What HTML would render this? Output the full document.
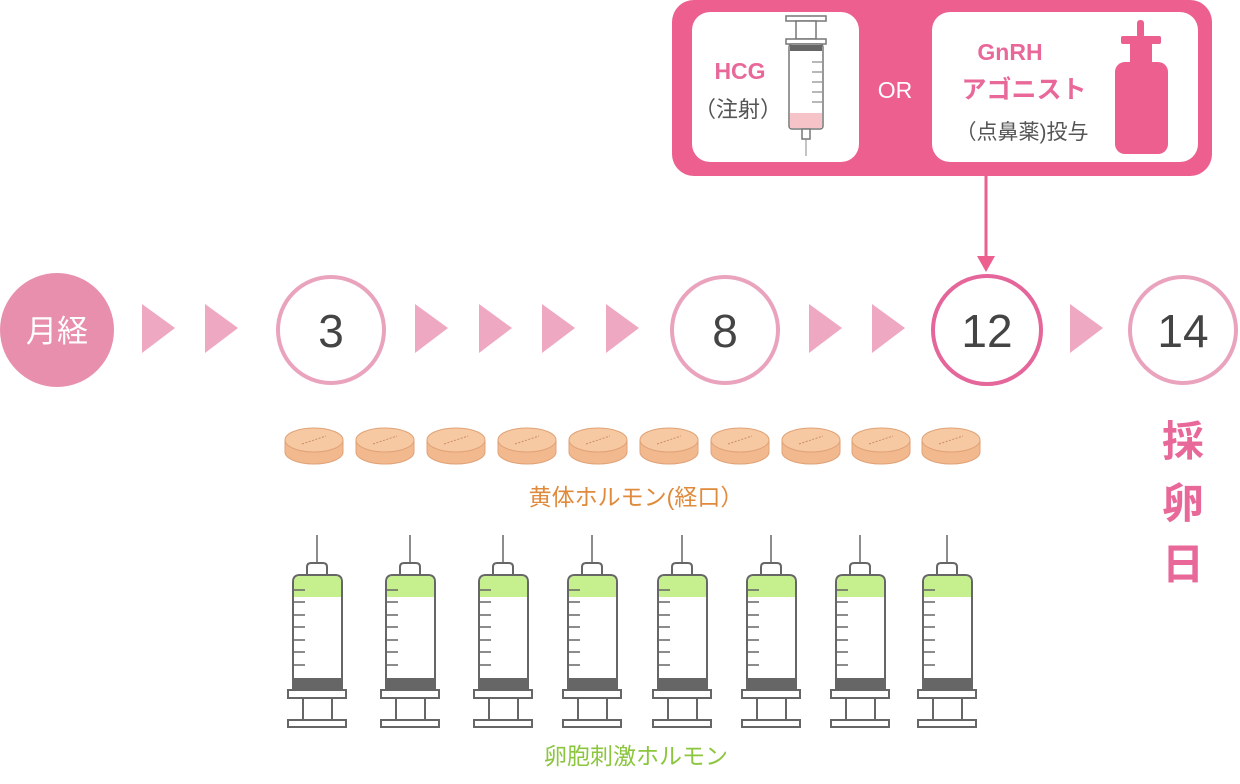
<!DOCTYPE html>
<html><head><meta charset="utf-8"><style>
html,body{margin:0;padding:0;background:#fff;width:1240px;height:784px;overflow:hidden}
svg{display:block}
text{font-family:"Liberation Sans","Noto Sans CJK JP",sans-serif}
</style></head><body>
<svg width="1240" height="784" viewBox="0 0 1240 784" xmlns="http://www.w3.org/2000/svg">
<defs>
<g id="syr">
<line x1="0" y1="535" x2="0" y2="563" stroke="#666" stroke-width="1.5"/>
<path d="M-10 575 V567 Q-10 563 -6 563 H6 Q10 563 10 567 V575" fill="#fff" stroke="#666" stroke-width="2"/>
<path d="M-24 690 V582 Q-24 575 -17 575 H18 Q25 575 25 582 V690 Z" fill="#fff" stroke="#666" stroke-width="2"/>
<path d="M-23 597 V582 Q-23 576 -17 576 H18 Q24 576 24 582 V597 Z" fill="#c6ef8e"/>
<rect x="-24" y="678" width="49" height="12" fill="#666"/>
<g stroke="#666" stroke-width="1.5">
<line x1="-23" y1="590" x2="-12" y2="590"/><line x1="-23" y1="602" x2="-12" y2="602"/>
<line x1="-23" y1="615" x2="-12" y2="615"/><line x1="-23" y1="627" x2="-12" y2="627"/>
<line x1="-23" y1="640" x2="-12" y2="640"/><line x1="-23" y1="652" x2="-12" y2="652"/>
<line x1="-23" y1="665" x2="-12" y2="665"/></g>
<rect x="-29" y="690" width="58" height="8" fill="#fff" stroke="#666" stroke-width="2"/>
<rect x="-14" y="698" width="29" height="22" fill="#fff" stroke="#666" stroke-width="2"/>
<rect x="-29" y="720" width="58" height="7" fill="#fff" stroke="#666" stroke-width="2"/>
</g>
<g id="pill">
<path d="M-29 440 V452 A29 12 0 0 0 29 452 V440" fill="#f2b98f" stroke="#e0a276" stroke-width="1"/>
<ellipse cx="0" cy="440" rx="29" ry="12" fill="#f7c9a3" stroke="#e0a276" stroke-width="1"/>
<line x1="-12" y1="444" x2="12" y2="436" stroke="#c98e64" stroke-width="1" stroke-dasharray="2 1.5"/>
</g>
<polygon id="tri" points="0,304 33,328 0,353" fill="#eea8c1"/>
</defs>

<rect x="672" y="0" width="540" height="176" rx="22" fill="#ec5f8e"/>
<rect x="692" y="12" width="167" height="150" rx="18" fill="#fff"/>
<rect x="932" y="12" width="266" height="150" rx="18" fill="#fff"/>
<text x="740" y="79" font-size="23" font-weight="bold" fill="#e8689a" text-anchor="middle">HCG</text>
<text x="738" y="117" font-size="22" fill="#555" text-anchor="middle">（注射）</text>
<g stroke="#777" stroke-width="1.5" fill="#fff">
<rect x="786" y="16" width="40" height="5"/>
<rect x="796" y="21" width="20" height="18"/>
<rect x="786" y="39" width="40" height="5"/>
<rect x="789" y="44" width="34" height="85" rx="3"/>
<rect x="802" y="129" width="8" height="10"/>
</g>
<rect x="790" y="45" width="32" height="6" fill="#666"/>
<rect x="790" y="113" width="32" height="15" fill="#f6c3c8"/>
<line x1="806" y1="139" x2="806" y2="156" stroke="#888" stroke-width="1"/>
<g stroke="#888" stroke-width="1.2"><line x1="812" y1="62" x2="822" y2="62"/><line x1="812" y1="72" x2="822" y2="72"/><line x1="812" y1="82" x2="822" y2="82"/><line x1="812" y1="92" x2="822" y2="92"/><line x1="812" y1="102" x2="822" y2="102"/></g>
<text x="895" y="98" font-size="23" fill="#fff" text-anchor="middle">OR</text>
<text x="1010" y="60" font-size="23" font-weight="bold" fill="#e8689a" text-anchor="middle">GnRH</text>
<text x="1024" y="98" font-size="25" font-weight="bold" fill="#e8689a" text-anchor="middle">アゴニスト</text>
<text x="1022" y="139" font-size="21" fill="#555" text-anchor="middle">（点鼻薬)投与</text>
<g fill="#ec5f8e">
<rect x="1137" y="20" width="7" height="18" rx="3"/>
<rect x="1121" y="36" width="40" height="8" rx="2"/>
<rect x="1130" y="44" width="22" height="20"/>
<rect x="1115" y="62" width="53" height="92" rx="10"/>
</g>
<line x1="986" y1="175" x2="986" y2="258" stroke="#ec5f8e" stroke-width="3"/>
<polygon points="977,256 995,256 986,272" fill="#ec5f8e"/>

<circle cx="57" cy="330" r="57" fill="#e88fae"/>
<text x="57" y="342" font-size="31" fill="#fff" text-anchor="middle">月経</text>
<use href="#tri" x="142"/><use href="#tri" x="205"/>
<circle cx="331" cy="330" r="53" fill="#fff" stroke="#eaa3bd" stroke-width="4"/>
<text x="331" y="347" font-size="46" fill="#444" text-anchor="middle">3</text>
<use href="#tri" x="415"/><use href="#tri" x="479"/><use href="#tri" x="542"/><use href="#tri" x="606"/>
<circle cx="725" cy="330" r="53" fill="#fff" stroke="#eaa3bd" stroke-width="4"/>
<text x="725" y="347" font-size="46" fill="#444" text-anchor="middle">8</text>
<use href="#tri" x="809"/><use href="#tri" x="872"/>
<circle cx="987" cy="330" r="54" fill="#fff" stroke="#e4669a" stroke-width="4"/>
<text x="987" y="347" font-size="46" fill="#444" text-anchor="middle">12</text>
<use href="#tri" x="1070"/>
<circle cx="1183" cy="330" r="53" fill="#fff" stroke="#eaa3bd" stroke-width="4"/>
<text x="1183" y="347" font-size="46" fill="#444" text-anchor="middle">14</text>

<use href="#pill" x="314"/><use href="#pill" x="385"/><use href="#pill" x="456"/><use href="#pill" x="527"/><use href="#pill" x="598"/>
<use href="#pill" x="669"/><use href="#pill" x="740"/><use href="#pill" x="811"/><use href="#pill" x="881"/><use href="#pill" x="951"/>
<text x="636" y="505" font-size="23" fill="#e08a3c" text-anchor="middle">黄体ホルモン(経口）</text>

<use href="#syr" x="317"/><use href="#syr" x="410"/><use href="#syr" x="503"/><use href="#syr" x="592"/>
<use href="#syr" x="682"/><use href="#syr" x="771"/><use href="#syr" x="860"/><use href="#syr" x="947"/>
<text x="636" y="764" font-size="23" fill="#8cc63f" text-anchor="middle">卵胞刺激ホルモン</text>

<text x="1183" y="456" font-size="42" font-weight="bold" fill="#e8689a" text-anchor="middle">採</text>
<text x="1183" y="518" font-size="42" font-weight="bold" fill="#e8689a" text-anchor="middle">卵</text>
<text x="1183" y="579" font-size="42" font-weight="bold" fill="#e8689a" text-anchor="middle">日</text>
</svg>
</body></html>
